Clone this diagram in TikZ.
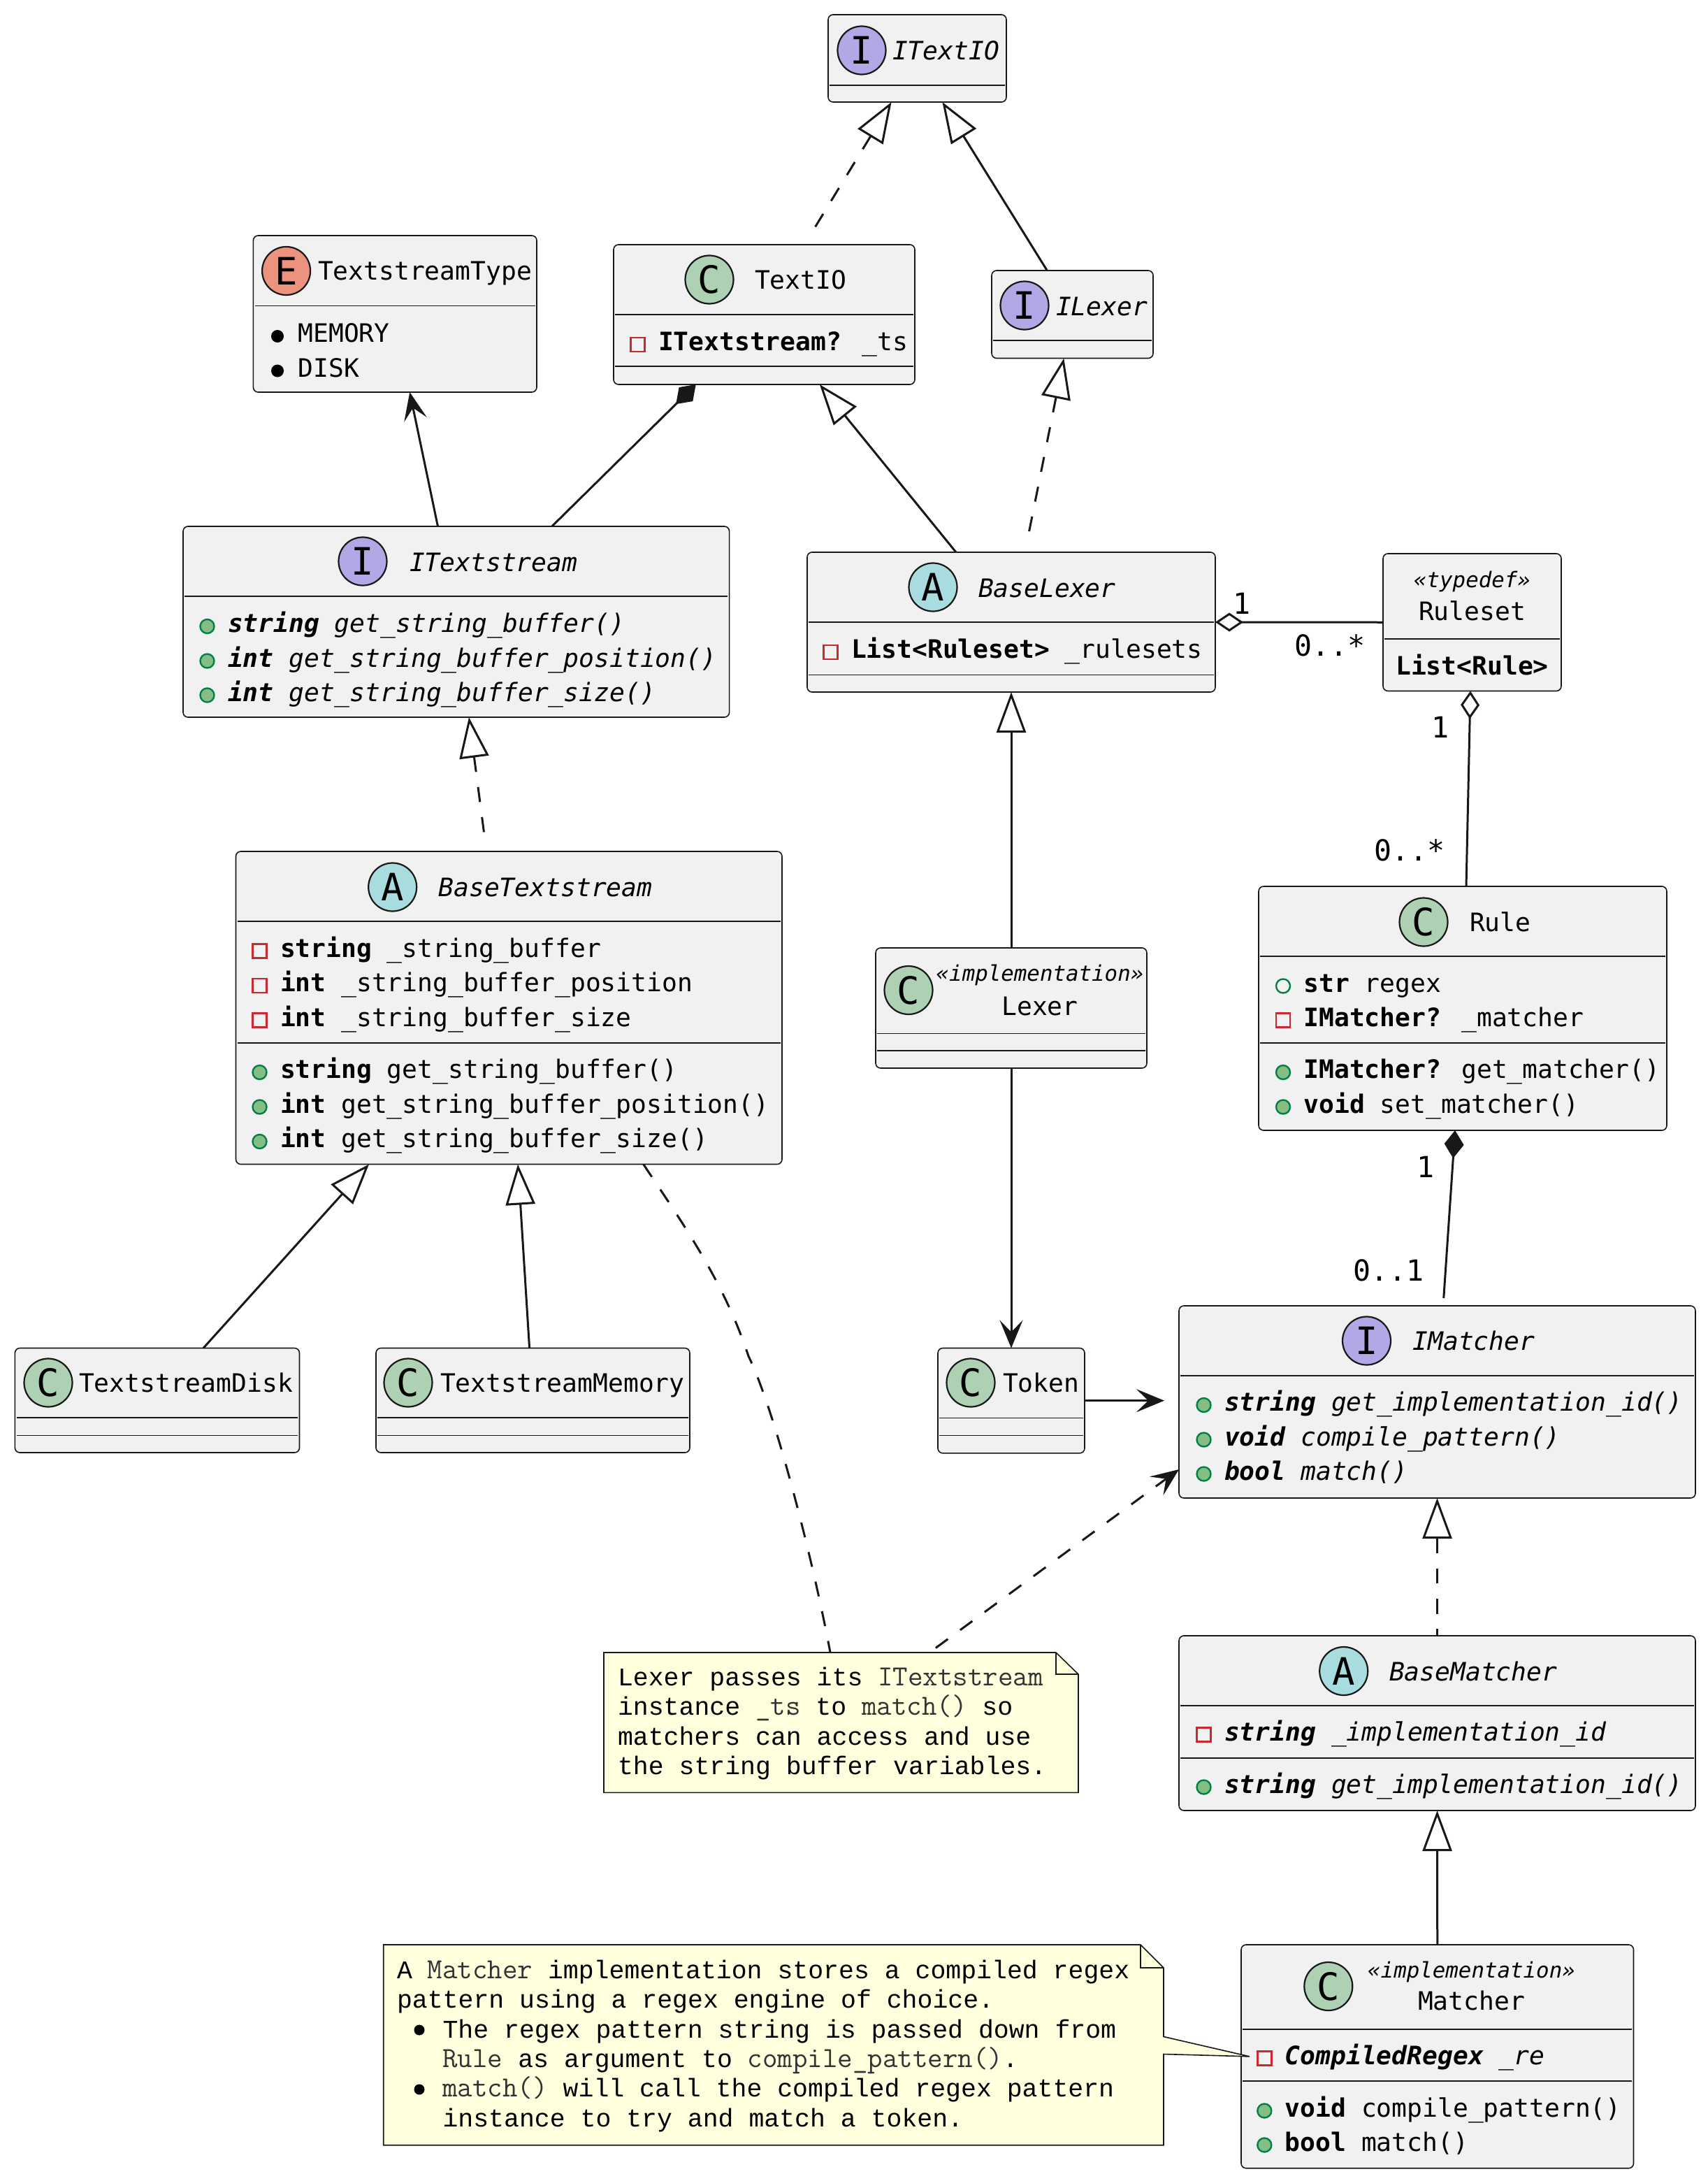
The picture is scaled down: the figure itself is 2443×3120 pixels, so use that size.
\documentclass[tikz,border=0pt]{standalone}
\usepackage{fontspec}
\usetikzlibrary{arrows.meta,fit}
\newfontfamily\umlfont{DejaVu Sans Mono}
\newfontfamily\notefont{Liberation Mono}
\definecolor{umlline}{HTML}{181818}
\definecolor{umlfill}{HTML}{F1F1F1}
\definecolor{notefill}{HTML}{FEFFDD}
\definecolor{spotC}{HTML}{ADD1B2}
\definecolor{spotI}{HTML}{B4A7E5}
\definecolor{spotA}{HTML}{A9DCDF}
\definecolor{spotE}{HTML}{EB937F}
\definecolor{pubgreen}{HTML}{038048}
\definecolor{pubfill}{HTML}{84BE84}
\definecolor{privred}{HTML}{C82930}
\definecolor{codegray}{HTML}{333333}
\tikzset{
	umlhollow/.tip={Triangle[fill=white,length=29pt,width=21pt]},
	umlopen/.tip={Stealth[length=20pt,width=16.5pt,inset=8.5pt]},
	umlaggr/.tip={Diamond[fill=white,length=20pt,width=13.5pt]},
	umlcomp/.tip={Diamond[length=20pt,width=14pt]},
	classbox/.style={rectangle,draw=umlline,fill=umlfill,line width=0.8pt,rounded corners=3.5pt,inner sep=0pt,outer sep=0pt},
	sepline/.style={draw=umlline,line width=0.8pt,shorten >=1.2pt,shorten <=1.2pt},
	spot/.style={circle,draw=umlline,line width=1.1pt,minimum size=34.5pt,inner sep=0pt,font=\umlfont\fontsize{27}{27}\selectfont},
	rowtext/.style={font=\umlfont\fontsize{18.15}{21}\selectfont,inner sep=0pt,outer sep=0pt,anchor=base west},
	stereotext/.style={font=\umlfont\itshape\fontsize{15.4}{18}\selectfont,inner sep=0pt,anchor=base},
	labeltext/.style={font=\umlfont\fontsize{20.8}{24}\selectfont,inner sep=0pt,anchor=center},
	pubrow/.style={circle,draw=pubgreen,fill=pubfill,line width=1.2pt,minimum size=10pt,inner sep=0pt},
	openrow/.style={circle,draw=pubgreen,line width=1.2pt,minimum size=10pt,inner sep=0pt},
	privrow/.style={rectangle,draw=privred,line width=1.2pt,minimum size=10pt,inner sep=0pt},
	enumrow/.style={circle,fill=black,minimum size=9pt,inner sep=0pt},
	notebullet/.style={circle,fill=black,minimum size=7.5pt,inner sep=0pt},
	notebox/.style={rectangle,inner sep=0pt,outer sep=0pt},
	notepaper/.style={draw=umlline,fill=notefill,line width=0.8pt},
	notetext/.style={font=\notefont\fontsize{18.25}{21}\selectfont,inner sep=0pt,outer sep=0pt,anchor=base west},
	umldash/.style={dash pattern=on 10.85pt off 10.85pt},
	umlimpl/.style={umldash,shorten >=9pt}
}
\newcommand{\umlclass}[5]{\node (#1) [classbox,fit={(#2,#3) (#4,#5)}] {};}
\newcommand{\umlsep}[2]{\draw[sepline] (#1.west |- 0,#2) -- (#1.east |- 0,#2);}
\newcommand{\umlrow}[5]{%
	\node (#2m) [#1] at (#3-29.5,#4-8.5) {};
	\node (#2) [rowtext] at (#3,#4) {#5};
}
\newcommand{\code}[1]{{\ttfamily\fontsize{20.85}{21}\selectfont\color{codegray}#1}}
\begin{document}
\begin{tikzpicture}[x=0.5pt,y=-0.5pt]
	\useasboundingbox (0,0) rectangle (2443,3120);

\begin{scope}
	\umlclass{ITextIO}{1185}{21}{1440}{146}
	\umlsep{ITextIO}{122}
	\node (ITextIOs) [spot,fill=spotI] at (1233,72) {I};
	\node (ITextIOt) [rowtext] at (1277,85.5) {\textit{ITextIO}};

	\umlclass{TextstreamType}{362.4}{337}{768}{561}
	\umlsep{TextstreamType}{437.5}
	\node (TextstreamTypes) [spot,fill=spotE] at (409.6,387.5) {E};
	\node (TextstreamTypet) [rowtext] at (455,400.5) {TextstreamType};
	\umlrow{enumrow}{ttMemory}{426.5}{489.5}{MEMORY}
	\umlrow{enumrow}{ttDisk}{426.5}{539}{DISK}

	\umlclass{TextIO}{878}{350}{1309}{550}
	\umlsep{TextIO}{450}
	\umlsep{TextIO}{524}
	\node (TextIOs) [spot,fill=spotC] at (1015,400) {C};
	\node (TextIOt) [rowtext] at (1080,413.5) {TextIO};
	\umlrow{privrow}{tiStream}{942}{501.5}{\textbf{ITextstream?} \_ts}

	\umlclass{ILexer}{1419}{387}{1650}{512.5}
	\umlsep{ILexer}{487}
	\node (ILexers) [spot,fill=spotI] at (1466,437) {I};
	\node (ILexert) [rowtext] at (1511,451) {\textit{ILexer}};

	\umlclass{ITextstream}{262}{753}{1043.6}{1026}
	\umlsep{ITextstream}{853}
	\node (ITextstreams) [spot,fill=spotI] at (519,803) {I};
	\node (ITextstreamt) [rowtext] at (586,817) {\textit{ITextstream}};
	\umlrow{pubrow}{itBuffer}{326}{904.5}{\textit{\textbf{string} get\_string\_buffer()}}
	\umlrow{pubrow}{itPosition}{326}{954}{\textit{\textbf{int} get\_string\_buffer\_position()}}
	\umlrow{pubrow}{itSize}{326}{1003}{\textit{\textbf{int} get\_string\_buffer\_size()}}

	\umlclass{BaseLexer}{1155}{790}{1739}{990}
	\umlsep{BaseLexer}{890}
	\umlsep{BaseLexer}{965.5}
	\node (BaseLexers) [spot,fill=spotA] at (1335,840) {A};
	\node (BaseLexert) [rowtext] at (1400,854) {\textit{BaseLexer}};
	\umlrow{privrow}{blRulesets}{1218}{941.5}{\textbf{List<Ruleset>} \_rulesets}

	\umlclass{Ruleset}{1979}{792}{2234}{988.5}
	\umlsep{Ruleset}{914}
	\node (Rulesets) [stereotext] at (2106.5,840) {«typedef»};
	\node (Rulesett) [rowtext,anchor=base] at (2106.5,887) {Ruleset};
	\node (rsRules) [rowtext,anchor=base] at (2106.5,965) {\textbf{List<Rule>}};

	\umlclass{Rule}{1801}{1268}{2385}{1617}
	\umlsep{Rule}{1368}
	\umlsep{Rule}{1492}
	\node (Rules) [spot,fill=spotC] at (2037,1319) {C};
	\node (Rulet) [rowtext] at (2103,1332) {Rule};
	\umlrow{openrow}{ruRegex}{1865.5}{1419}{\textbf{str} regex}
	\umlrow{privrow}{ruMatcher}{1865.5}{1468}{\textbf{IMatcher?} \_matcher}
	\umlrow{pubrow}{ruGet}{1865.5}{1542.5}{\textbf{IMatcher?} get\_matcher()}
	\umlrow{pubrow}{ruSet}{1865.5}{1592}{\textbf{void} set\_matcher()}

	\umlclass{BaseTextstream}{337.5}{1218}{1119}{1665.5}
	\umlsep{BaseTextstream}{1318}
	\umlsep{BaseTextstream}{1492}
	\node (BaseTextstreams) [spot,fill=spotA] at (561.7,1269) {A};
	\node (BaseTextstreamt) [rowtext] at (627.5,1282) {\textit{BaseTextstream}};
	\umlrow{privrow}{btBuffer}{401}{1369}{\textbf{string} \_string\_buffer}
	\umlrow{privrow}{btPosition}{401}{1418.5}{\textbf{int} \_string\_buffer\_position}
	\umlrow{privrow}{btSize}{401}{1468}{\textbf{int} \_string\_buffer\_size}
	\umlrow{pubrow}{btGetBuffer}{401}{1542.5}{\textbf{string} get\_string\_buffer()}
	\umlrow{pubrow}{btGetPosition}{401}{1592}{\textbf{int} get\_string\_buffer\_position()}
	\umlrow{pubrow}{btGetSize}{401}{1641.5}{\textbf{int} get\_string\_buffer\_size()}

	\umlclass{Lexer}{1253}{1356}{1641}{1528}
	\umlsep{Lexer}{1478.5}
	\umlsep{Lexer}{1503}
	\node (Lexers) [spot,fill=spotC] at (1300,1416.5) {C};
	\node (Lexerq) [stereotext] at (1488,1403.5) {«implementation»};
	\node (Lexert) [rowtext,anchor=base] at (1488,1452) {Lexer};

	\umlclass{TextstreamDisk}{21.4}{1928.5}{428.5}{2078}
	\umlsep{TextstreamDisk}{2028}
	\umlsep{TextstreamDisk}{2053.5}
	\node (TextstreamDisks) [spot,fill=spotC] at (69,1978) {C};
	\node (TextstreamDiskt) [rowtext] at (113,1991) {TextstreamDisk};

	\umlclass{TextstreamMemory}{538}{1928.5}{987}{2078}
	\umlsep{TextstreamMemory}{2028}
	\umlsep{TextstreamMemory}{2053.5}
	\node (TextstreamMemorys) [spot,fill=spotC] at (584,1978) {C};
	\node (TextstreamMemoryt) [rowtext] at (630,1991) {TextstreamMemory};

	\umlclass{Token}{1342}{1928.5}{1552}{2078.8}
	\umlsep{Token}{2028.5}
	\umlsep{Token}{2053.5}
	\node (Tokens) [spot,fill=spotC] at (1389,1978) {C};
	\node (Tokent) [rowtext] at (1435,1991.5) {Token};

	\umlclass{IMatcher}{1687}{1868}{2426}{2143}
	\umlsep{IMatcher}{1968}
	\node (IMatchers) [spot,fill=spotI] at (1955.5,1918) {I};
	\node (IMatchert) [rowtext] at (2021.5,1931) {\textit{IMatcher}};
	\umlrow{pubrow}{imId}{1752}{2018.5}{\textit{\textbf{string} get\_implementation\_id()}}
	\umlrow{pubrow}{imCompile}{1752}{2068}{\textit{\textbf{void} compile\_pattern()}}
	\umlrow{pubrow}{imMatch}{1752}{2117}{\textit{\textbf{bool} match()}}

	\umlclass{BaseMatcher}{1687}{2340}{2426}{2590}
	\umlsep{BaseMatcher}{2440}
	\umlsep{BaseMatcher}{2515}
	\node (BaseMatchers) [spot,fill=spotA] at (1922.7,2390.5) {A};
	\node (BaseMatchert) [rowtext] at (1988,2404) {\textit{BaseMatcher}};
	\umlrow{privrow}{bmId}{1752}{2490}{\textit{\textbf{string} \_implementation\_id}}
	\umlrow{pubrow}{bmGet}{1752}{2565}{\textit{\textbf{string} get\_implementation\_id()}}

	\umlclass{Matcher}{1776}{2782}{2337.5}{3101.7}
	\umlsep{Matcher}{2903}
	\umlsep{Matcher}{2977}
	\node (Matchers) [spot,fill=spotC] at (1900.8,2841.5) {C};
	\node (Matcherq) [stereotext] at (2105.5,2829) {«implementation»};
	\node (Matchert) [rowtext,anchor=base] at (2105.5,2875.5) {Matcher};
	\umlrow{privrow}{maRe}{1838.8}{2953}{\textit{\textbf{CompiledRegex} \_re}}
	\umlrow{pubrow}{maCompile}{1838.8}{3028}{\textbf{void} compile\_pattern()}
	\umlrow{pubrow}{maMatch}{1838.8}{3077}{\textbf{bool} match()}
\end{scope}

\begin{scope}[every edge/.style={draw=umlline,line width=1.5pt}]
	\path [umlhollow-] ([xshift=-18.45pt]ITextIO.south) edge[umlimpl] ([xshift=28.75pt]TextIO.north);
	\path [umlhollow-] ([xshift=17.95pt]ITextIO.south) edge ([xshift=-18.1pt]ILexer.north);
	\path [umlhollow-] ([xshift=39.65pt]TextIO.south) edge ([xshift=-39.5pt]BaseLexer.north);
	\path [umlhollow-] ([xshift=-6.1pt]ILexer.south) edge[umlimpl] ([xshift=9.8pt]BaseLexer.north);
	\path [umlopen-] ([xshift=10.55pt]TextstreamType.south) edge ([xshift=-13.15pt]ITextstream.north);
	\path [umlcomp-] ([xshift=-48.9pt]TextIO.south) edge ([xshift=68.45pt]ITextstream.north);
	\path [umlhollow-] ([xshift=9.1pt]ITextstream.south) edge[umlimpl] ([xshift=-16.1pt]BaseTextstream.north);
	\path [umlhollow-] ([xshift=-100.1pt]BaseTextstream.south) edge ([xshift=33pt]TextstreamDisk.north);
	\path [umlhollow-] ([xshift=6.4pt]BaseTextstream.south) edge ([xshift=-2.45pt]TextstreamMemory.north);
	\path [umlhollow-] (BaseLexer.south) edge (Lexer.north);
	\path [-umlopen] (Lexer.south) edge (Token.north);
	\path [-umlopen] (Token.east) edge ([xshift=-10.5pt]IMatcher.west |- Token.east);
	\path [umlaggr-] (BaseLexer.east) edge (Ruleset.west);
	\path [umlaggr-] ([xshift=-1.25pt]Ruleset.south) edge ([xshift=2.5pt]Rule.north);
	\path [umlcomp-] ([xshift=-5.5pt]Rule.south) edge[shorten >=5.5pt] ([xshift=4.25pt]IMatcher.north);
	\path [umlhollow-] (IMatcher.south) edge[umldash] (BaseMatcher.north);
	\path [umlhollow-] (BaseMatcher.south) edge (Matcher.north);
\end{scope}

	\node (lbRulesetOne) [labeltext] at (1777,863) {1};
	\node (lbRulesetMany) [labeltext] at (1903,923) {0..*};
	\node (lbRuleOne) [labeltext] at (2061,1040) {1};
	\node (lbRuleMany) [labeltext] at (2017,1216) {0..*};
	\node (lbMatcherOne) [labeltext] at (2039.5,1669.5) {1};
	\node (lbMatcherOpt) [labeltext] at (1987,1817) {0..1};

	\node (NoteLexer) [notebox,fit={(864,2364) (1543,2564.3)}] {};
	\draw[notepaper] (NoteLexer.north west) -- ([xshift=-16pt]NoteLexer.north east) -- ([yshift=-15.5pt]NoteLexer.north east) -- (NoteLexer.south east) -- (NoteLexer.south west) -- cycle;
	\draw[notepaper,fill=none] ([xshift=-16pt]NoteLexer.north east) -- ++(0pt,-15.5pt) -- ++(16pt,0pt);
	\node (nlA) [notetext] at (884,2411) {Lexer passes its \code{ITextstream}};
	\node (nlB) [notetext] at (884,2453.5) {instance \code{\_ts} to \code{match()} so};
	\node (nlC) [notetext] at (884,2496) {matchers can access and use};
	\node (nlD) [notetext] at (884,2538) {the string buffer variables.};

	\draw[draw=umlline,line width=1.5pt,umldash] ([xshift=96.2pt]BaseTextstream.south) .. controls (970,1740) and (1035,1830) .. (1071,1940) .. controls (1110,2020) and (1165,2240) .. ([xshift=-7.75pt]NoteLexer.north);
	\path [-umlopen] ([xshift=63.25pt]NoteLexer.north) edge[draw=umlline,line width=1.5pt,umldash,dash phase=16.2pt] ([yshift=-48.25pt]IMatcher.west);

	\node (NoteMatcher) [notebox,fit={(548.7,2782) (1665,3068.7)}] {};
	\draw[notepaper] (NoteMatcher.north west) -- ([xshift=-16.5pt]NoteMatcher.north east) -- ([yshift=-16.5pt]NoteMatcher.north east) -- (NoteMatcher.east |- 0,2913.5) -- ([xshift=6pt]Matcher.west) -- (NoteMatcher.east |- 0,2938.5) -- (NoteMatcher.south east) -- (NoteMatcher.south west) -- cycle;
	\draw[notepaper,fill=none] ([xshift=-16.5pt]NoteMatcher.north east) -- ++(0pt,-16.5pt) -- ++(16.5pt,0pt);
	\node (nmA) [notetext] at (568,2830) {A \code{Matcher} implementation stores a compiled regex};
	\node (nmB) [notetext] at (568,2872.5) {pattern using a regex engine of choice.};
	\node (nmBulA) [notebullet] at (600,2904) {};
	\node (nmC) [notetext] at (633.5,2915) {The regex pattern string is passed down from};
	\node (nmD) [notetext] at (633.5,2957.5) {\code{Rule} as argument to \code{compile\_pattern()}.};
	\node (nmBulB) [notebullet] at (600,2989) {};
	\node (nmE) [notetext] at (633.5,2999.5) {\code{match()} will call the compiled regex pattern};
	\node (nmF) [notetext] at (633.5,3042) {instance to try and match a token.};
\end{tikzpicture}
\end{document}
